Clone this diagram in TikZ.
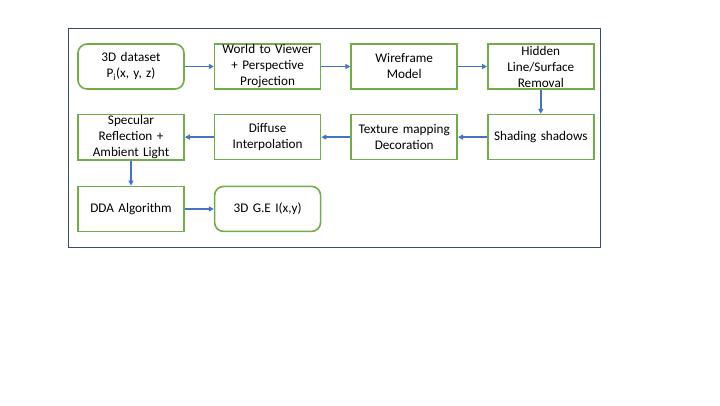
\documentclass[tikz,border=0pt]{standalone}
\usepackage{fontspec}
\setmainfont{Carlito}
\usepackage{tikz}
\usetikzlibrary{positioning, arrows.meta}
\definecolor{pipeGreen}{HTML}{70AD47}
\definecolor{pipeBlue}{HTML}{4472C4}
\definecolor{pipeFrame}{HTML}{3A4B6C}
\tikzset{
  stage/.style={
    rectangle,
    draw=pipeGreen, line width=1.6pt,
    fill=white,
    inner sep=1pt,
    minimum width=106pt, minimum height=45pt,
    text width=104pt,
    align=center,
    font=\fontsize{13.2}{16}\selectfont
  },
  endpoint/.style={
    stage, rounded corners=9pt
  },
  flow/.style={
    -{Triangle[length=5pt, width=5pt]},
    pipeBlue, line width=1.5pt
  },
  frame/.style={
    draw=pipeFrame, line width=0.9pt
  }
}
\begin{document}
\begin{tikzpicture}[node distance=29pt and 29pt]
  \useasboundingbox (0,0) rectangle (720pt,-405pt);
  \draw[frame] (68pt,-28pt) rectangle (600pt,-247pt);
  % top row
  \node[endpoint] (data) at (131pt,-66.5pt) {3D dataset\\P\textsubscript{i}(x, y, z)};
  \node[stage, right=of data] (view) {World to Viewer\\+ Perspective\\Projection};
  \node[stage, right=of view] (wire) {Wireframe\\Model};
  \node[stage, right=of wire] (hidden) {Hidden\\Line/Surface\\Removal};
  % middle row
  \node[stage, below=24pt of hidden] (shade) {Shading shadows};
  \node[stage, left=of shade] (texture) {Texture mapping\\Decoration};
  \node[stage, left=of texture] (diffuse) {Diffuse\\Interpolation};
  \node[stage, left=of diffuse] (specular) {Specular\\Reflection +\\Ambient Light};
  % bottom row
  \node[stage, below=25pt of specular] (dda) {DDA Algorithm};
  \node[endpoint, right=of dda] (image) {3D G.E I(x,y)};
  \draw[flow] (data) -- (view);
  \draw[flow] (view) -- (wire);
  \draw[flow] (wire) -- (hidden);
  \draw[flow] (hidden) -- (shade);
  \draw[flow] (shade) -- (texture);
  \draw[flow] (texture) -- (diffuse);
  \draw[flow] (diffuse) -- (specular);
  \draw[flow] (specular) -- (dda);
  \draw[flow] (dda) -- (image);
\end{tikzpicture}
\end{document}
